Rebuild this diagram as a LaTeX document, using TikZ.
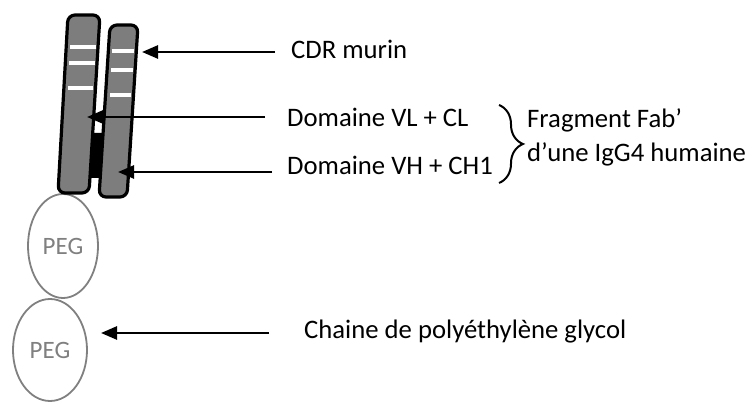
\documentclass[tikz,border=0pt]{standalone}
\usepackage{fontspec}
\setmainfont{Carlito}
\usetikzlibrary{arrows.meta,shapes.geometric,decorations.pathreplacing}

\definecolor{chaingray}{RGB}{125,125,125}
\definecolor{peggray}{RGB}{128,128,128}

\begin{document}
\begin{tikzpicture}[x=1pt,y=-1pt,
  chain/.style={draw=black,line width=3.2pt,fill=chaingray,rounded corners=7pt},
  cdr/.style={white,line width=4pt},
  peg/.style={ellipse,draw=peggray,line width=1.8pt,text=peggray,
              inner sep=0pt,font=\fontsize{25}{29}\selectfont},
  lbl/.style={anchor=west,inner sep=0pt,text height=0.7em,text depth=0.25em,
              font=\fontsize{26.7}{31}\selectfont},
  arr/.style={-{Triangle[length=16pt,width=13pt]},line width=2.6pt},
  fab/.style={decorate,decoration={brace,amplitude=24pt},line width=2pt}]
\useasboundingbox (0,0) rectangle (748,403);
%%
%% PEG chain (two ellipses)
\node[peg,minimum width=70pt,minimum height=104pt] (peg1) at (63,246) {PEG};
\node[peg,minimum width=74pt,minimum height=102pt] (peg2) at (50,350) {PEG};
%%
%% Fab' fragment: hinge region in black, then the two chains
\fill (92,133) -- (103,133) -- (100,178) -- (90,178) -- cycle;
\draw[chain] (68,15) -- (100,15) -- (89,193) -- (58,193) -- cycle;
\draw[chain] (110,25) -- (138,25) -- (127,197) -- (99,197) -- cycle;
%% CDR bands
\draw[cdr] (70,47) -- (96,47);
\draw[cdr] (69,63) -- (95,63);
\draw[cdr] (68,88) -- (93,88);
\draw[cdr] (112,51) -- (134,51);
\draw[cdr] (111,70) -- (133,70);
\draw[cdr] (110,95) -- (131,95);
%%
%% Arrow targets on the drawing
\coordinate (cdrtip) at (142,52);
\coordinate (vltip)  at (87,117);
\coordinate (vhtip)  at (118,172);
\coordinate (pegtip) at (101,333);
%%
%% Labels
\node[lbl] (cdrlbl) at (291,56)  {CDR murin};
\node[lbl] (vllbl)  at (287,124) {Domaine VL + CL};
\node[lbl] (vhlbl)  at (287,172) {Domaine VH + CH1};
\node[lbl] (peglbl) at (304,336) {Chaine de polyéthylène glycol};
\node[lbl] (fablbl) at (527,125) {Fragment Fab’};
\node[lbl] (igglbl) at (527,159) {d’une IgG4 humaine};
%%
%% Arrows
\draw[arr] ([xshift=-16pt]cdrlbl.west |- cdrtip) -- (cdrtip);
\draw[arr] ([xshift=-22pt]vllbl.west |- vltip)   -- (vltip);
\draw[arr] ([xshift=-15pt]vhlbl.west |- vhtip)   -- (vhtip);
\draw[arr] ([xshift=-35pt]peglbl.west |- pegtip) -- (pegtip);
%%
%% Brace grouping the two domains
\coordinate (fabtop) at (499,105);
\coordinate (fabbot) at (499,183);
\draw[fab] (fabtop) -- (fabbot);
\end{tikzpicture}
\end{document}
